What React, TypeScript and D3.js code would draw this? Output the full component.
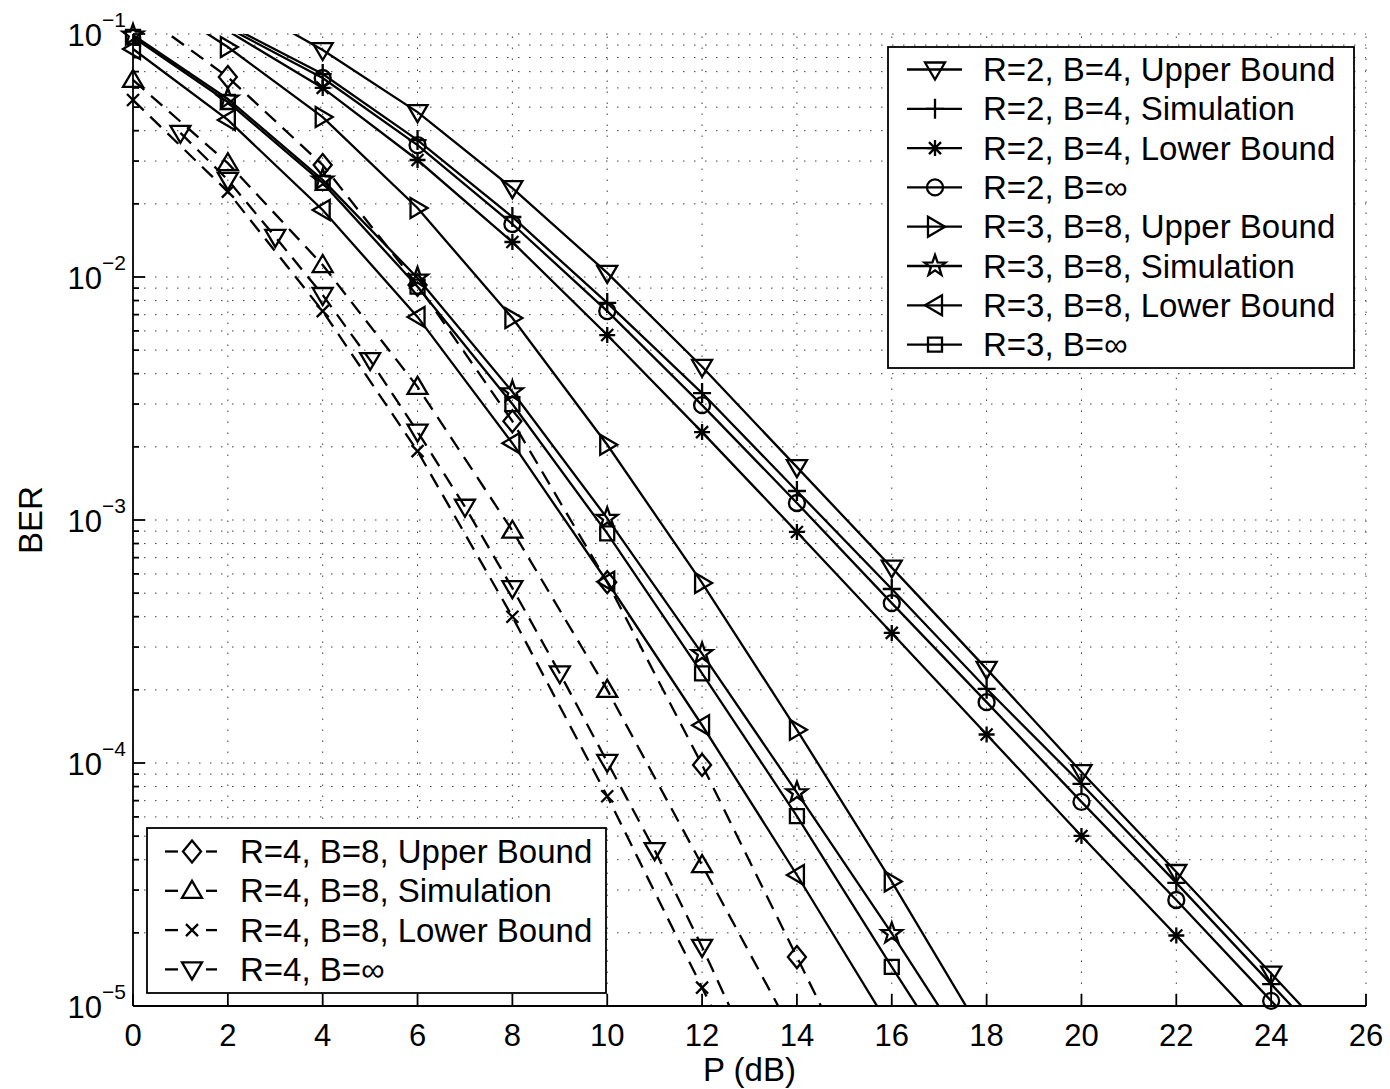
import React from "react";
import * as d3 from "d3";

// ---------- data ----------
const P_EVEN = [0, 2, 4, 6, 8, 10, 12, 14, 16, 18, 20, 22, 24, 26];
const P_R2LB = [0, 2, 4, 6, 8, 10, 12, 14, 16, 18, 20, 22, 24];
const P_R3 = [0, 2, 4, 6, 8, 10, 12, 14, 16, 18];
const P_R3LB = [0, 2, 4, 6, 8, 10, 12, 14, 16];
const P_R4UB = [0, 2, 4, 6, 8, 10, 12, 14, 16];
const P_R4 = [0, 2, 4, 6, 8, 10, 12, 14];
const P_R4INF = [1, 2, 3, 4, 5, 6, 7, 8, 9, 10, 11, 12, 13];

const R2_UB = [0.22, 0.143, 0.0859, 0.0477, 0.0232, 0.0104, 0.00427, 0.00165, 6.37e-4, 2.44e-4, 9.18e-5, 3.56e-5, 1.36e-5, 5.2e-6];
const R2_SIM = [0.159, 0.109, 0.0684, 0.0366, 0.01766, 0.00782, 0.00333, 0.001316, 5.2e-4, 2.02e-4, 8.2e-5, 3.21e-5, 1.23e-5, 4.7e-6];
const R2_LB = [0.145, 0.103, 0.06, 0.0303, 0.01393, 0.00577, 0.0023, 8.93e-4, 3.43e-4, 1.31e-4, 5.01e-5, 1.95e-5, 7.5e-6];
const R2_INF = [0.152, 0.106, 0.0659, 0.0349, 0.01652, 0.00724, 0.00297, 0.001175, 4.55e-4, 1.78e-4, 6.92e-5, 2.73e-5, 1.05e-5, 4.1e-6];

const R3_UB = [0.1576, 0.0884, 0.0455, 0.01923, 0.00678, 0.00204, 5.51e-4, 1.37e-4, 3.25e-5, 7.2e-6];
const R3_SIM = [0.099, 0.054, 0.0251, 0.0099, 0.00337, 0.001016, 2.82e-4, 7.55e-5, 1.99e-5, 4.95e-6];
const R3_LB = [0.0868, 0.0443, 0.01888, 0.00685, 0.00207, 5.57e-4, 1.43e-4, 3.46e-5, 7.96e-6];
const R3_INF = [0.0972, 0.0525, 0.0244, 0.00912, 0.003, 8.81e-4, 2.34e-4, 6.05e-5, 1.45e-5, 3.56e-6];

const R4_UB = [0.128, 0.0665, 0.0289, 0.00927, 0.00255, 5.55e-4, 9.82e-5, 1.59e-5, 2.55e-6];
const R4_SIM = [0.0647, 0.0294, 0.0112, 0.00353, 9.04e-4, 2.0e-4, 3.8e-5, 7.2e-6];
const R4_LB = [0.0535, 0.02245, 0.00724, 0.00192, 4.0e-4, 7.3e-5, 1.19e-5, 1.92e-6];
const R4_INF = [0.0392, 0.0251, 0.01462, 0.00843, 0.00455, 0.00231, 0.001134, 5.24e-4, 2.34e-4, 1.01e-4, 4.38e-5, 1.75e-5, 6.6e-6];

const X_TICKS = [0, 2, 4, 6, 8, 10, 12, 14, 16, 18, 20, 22, 24, 26];
const Y_EXPONENTS = [-1, -2, -3, -4, -5];
const X_LABEL = "P (dB)";
const Y_LABEL = "BER";

const LEGEND1_LABELS = [
  "R=2, B=4, Upper Bound",
  "R=2, B=4, Simulation",
  "R=2, B=4, Lower Bound",
  "R=2, B=\u221E",
  "R=3, B=8, Upper Bound",
  "R=3, B=8, Simulation",
  "R=3, B=8, Lower Bound",
  "R=3, B=\u221E",
];
const LEGEND2_LABELS = [
  "R=4, B=8, Upper Bound",
  "R=4, B=8, Simulation",
  "R=4, B=8, Lower Bound",
  "R=4, B=\u221E",
];

type Series = { xs: number[]; ys: number[]; marker: string; dashed: boolean };

const SERIES1: Series[] = [
  { xs: P_EVEN, ys: R2_UB, marker: "v", dashed: false },
  { xs: P_EVEN, ys: R2_SIM, marker: "+", dashed: false },
  { xs: P_R2LB, ys: R2_LB, marker: "*", dashed: false },
  { xs: P_EVEN, ys: R2_INF, marker: "o", dashed: false },
  { xs: P_R3, ys: R3_UB, marker: ">", dashed: false },
  { xs: P_R3, ys: R3_SIM, marker: "p", dashed: false },
  { xs: P_R3LB, ys: R3_LB, marker: "<", dashed: false },
  { xs: P_R3, ys: R3_INF, marker: "s", dashed: false },
];
const SERIES2: Series[] = [
  { xs: P_R4UB, ys: R4_UB, marker: "d", dashed: true },
  { xs: P_R4, ys: R4_SIM, marker: "^", dashed: true },
  { xs: P_R4, ys: R4_LB, marker: "x", dashed: true },
  { xs: P_R4INF, ys: R4_INF, marker: "v", dashed: true },
];

// ---------- layout ----------
const W = 1390;
const H = 1089;
const L = 133, R = 1366, T = 34, B = 1006;
const FONT = "'Liberation Sans', Arial, Helvetica, sans-serif";
const DASH = "15 9";
const LW = 2.3;

const x = d3.scaleLinear().domain([0, 26]).range([L, R]);
const y = d3.scaleLog().domain([1e-5, 1e-1]).range([B, T]);

function pentagram(ro: number, ri: number) {
  const pts: string[] = [];
  for (let i = 0; i < 10; i++) {
    const r = i % 2 === 0 ? ro : ri;
    const a = -Math.PI / 2 + (i * Math.PI) / 5;
    pts.push(`${(r * Math.cos(a)).toFixed(2)},${(r * Math.sin(a)).toFixed(2)}`);
  }
  return "M" + pts.join("L") + "Z";
}

const MARKER_PATHS: Record<string, string> = {
  v: "M-10,-7L10,-7L0,10Z",
  "^": "M-10,7L10,7L0,-10Z",
  ">": "M-7,-10L-7,10L10,0Z",
  "<": "M7,-10L7,10L-10,0Z",
  s: "M-7,-7H7V7H-7Z",
  d: "M0,-11L9,0L0,11L-9,0Z",
  "+": "M-9,0H9M0,-10V10",
  "*": "M-8,0H8M0,-8V8M-6,-6L6,6M-6,6L6,-6",
  x: "M-6,-6L6,6M-6,6L6,-6",
  p: pentagram(11, 4.4),
};

function Marker({ type, cx, cy }: { type: string; cx: number; cy: number }) {
  if (type === "o") {
    return <circle cx={cx} cy={cy} r={8} fill="none" stroke="#000" strokeWidth={LW} />;
  }
  return (
    <path
      d={MARKER_PATHS[type]}
      transform={`translate(${cx},${cy})`}
      fill="none"
      stroke="#000"
      strokeWidth={LW}
      strokeLinejoin="miter"
    />
  );
}

function SeriesView({ s }: { s: Series }) {
  const pts = s.xs.map((xv, i) => [xv, s.ys[i]] as [number, number]);
  const line = d3
    .line<[number, number]>()
    .x((d) => x(d[0]))
    .y((d) => y(d[1]));
  const visible = pts.filter((d) => d[1] >= 1e-5 * 0.999 && d[1] <= 1e-1 * 1.001);
  return (
    <g>
      <path
        d={line(pts) || ""}
        fill="none"
        stroke="#000"
        strokeWidth={LW}
        strokeDasharray={s.dashed ? DASH : undefined}
        clipPath="url(#plotclip)"
      />
      {visible.map((d, i) => (
        <Marker key={i} type={s.marker} cx={x(d[0])} cy={y(d[1])} />
      ))}
    </g>
  );
}

export default function App() {
  const gridY: number[] = [];
  for (let e = -5; e <= -2; e++) {
    for (let m = 1; m <= 9; m++) {
      const v = m * Math.pow(10, e);
      if (v > 1e-5 * 1.001) gridY.push(v);
    }
  }
  gridY.push(1e-1);
  const minorTicks: number[] = [];
  for (let e = -5; e <= -2; e++) {
    for (let m = 2; m <= 9; m++) minorTicks.push(m * Math.pow(10, e));
  }

  const leg1 = { x0: 888, y0: 47, w: 466, h: 321, rowY: 69.5, step: 39.3, lx1: 907, lx2: 962, mx: 935, tx: 983 };
  const leg2 = { x0: 147, y0: 828, w: 459, h: 165, rowY: 851.5, step: 39.3, lx1: 165, lx2: 217, mx: 192, tx: 240 };

  return (
    <svg
      width={W}
      height={H}
      viewBox={`0 0 ${W} ${H}`}
      style={{ position: "absolute", left: 0, top: 0, background: "#fff" }}
      fontFamily={FONT}
    >
      <rect x={0} y={0} width={W} height={H} fill="#fff" />
      <defs>
        <clipPath id="plotclip">
          <rect x={L} y={T} width={R - L} height={B - T} />
        </clipPath>
      </defs>

      {/* grid */}
      <g stroke="#000" strokeWidth={1} strokeDasharray="1.5 9.5" opacity={0.75}>
        {X_TICKS.filter((t) => t > 0).map((t) => (
          <line key={"gx" + t} x1={x(t)} x2={x(t)} y1={B} y2={T} />
        ))}
        {gridY.map((v, i) => (
          <line key={"gy" + i} x1={L} x2={R} y1={y(v)} y2={y(v)} />
        ))}
      </g>

      {/* series */}
      {SERIES1.map((s, i) => (
        <SeriesView key={"s1" + i} s={s} />
      ))}
      {SERIES2.map((s, i) => (
        <SeriesView key={"s2" + i} s={s} />
      ))}

      {/* axes */}
      <g stroke="#000" strokeWidth={1.8}>
        <line x1={L} x2={L} y1={T} y2={B} />
        <line x1={L} x2={R} y1={B} y2={B} />
        {X_TICKS.map((t) => (
          <line key={"xt" + t} x1={x(t)} x2={x(t)} y1={B} y2={B - 12} />
        ))}
        {Y_EXPONENTS.map((e) => (
          <line key={"yt" + e} x1={L} x2={L + 12} y1={y(Math.pow(10, e))} y2={y(Math.pow(10, e))} />
        ))}
        {minorTicks.map((v, i) => (
          <line key={"ym" + i} x1={L} x2={L + 6} y1={y(v)} y2={y(v)} />
        ))}
      </g>

      {/* tick labels */}
      <g fontSize={31} fill="#000">
        {X_TICKS.map((t) => (
          <text key={"xl" + t} x={x(t)} y={1046} textAnchor="middle">
            {t}
          </text>
        ))}
        {Y_EXPONENTS.map((e) => (
          <text key={"yl" + e} x={126} y={y(Math.pow(10, e)) + 12} textAnchor="end">
            10
            <tspan fontSize={21} dy={-19}>
              {"\u2212" + Math.abs(e)}
            </tspan>
          </text>
        ))}
      </g>

      {/* axis labels */}
      <text x={(L + R) / 2} y={1081} textAnchor="middle" fontSize={33}>
        {X_LABEL}
      </text>
      <text
        transform={`translate(42,${(T + B) / 2}) rotate(-90)`}
        textAnchor="middle"
        fontSize={33}
      >
        {Y_LABEL}
      </text>

      {/* legend 1 */}
      <g>
        <rect x={leg1.x0} y={leg1.y0} width={leg1.w} height={leg1.h} fill="#fff" stroke="#000" strokeWidth={1.8} />
        {LEGEND1_LABELS.map((lab, i) => {
          const cy = leg1.rowY + i * leg1.step;
          return (
            <g key={"l1" + i}>
              <line x1={leg1.lx1} x2={leg1.lx2} y1={cy} y2={cy} stroke="#000" strokeWidth={LW} />
              <Marker type={SERIES1[i].marker} cx={leg1.mx} cy={cy} />
              <text x={leg1.tx} y={cy + 11.5} fontSize={33}>
                {lab}
              </text>
            </g>
          );
        })}
      </g>

      {/* legend 2 */}
      <g>
        <rect x={leg2.x0} y={leg2.y0} width={leg2.w} height={leg2.h} fill="#fff" stroke="#000" strokeWidth={1.8} />
        {LEGEND2_LABELS.map((lab, i) => {
          const cy = leg2.rowY + i * leg2.step;
          return (
            <g key={"l2" + i}>
              <line x1={leg2.lx1} x2={leg2.lx1 + 13} y1={cy} y2={cy} stroke="#000" strokeWidth={LW} />
              <line x1={leg2.lx2 - 11} x2={leg2.lx2} y1={cy} y2={cy} stroke="#000" strokeWidth={LW} />
              <Marker type={SERIES2[i].marker} cx={leg2.mx} cy={cy} />
              <text x={leg2.tx} y={cy + 11.5} fontSize={33}>
                {lab}
              </text>
            </g>
          );
        })}
      </g>
    </svg>
  );
}
